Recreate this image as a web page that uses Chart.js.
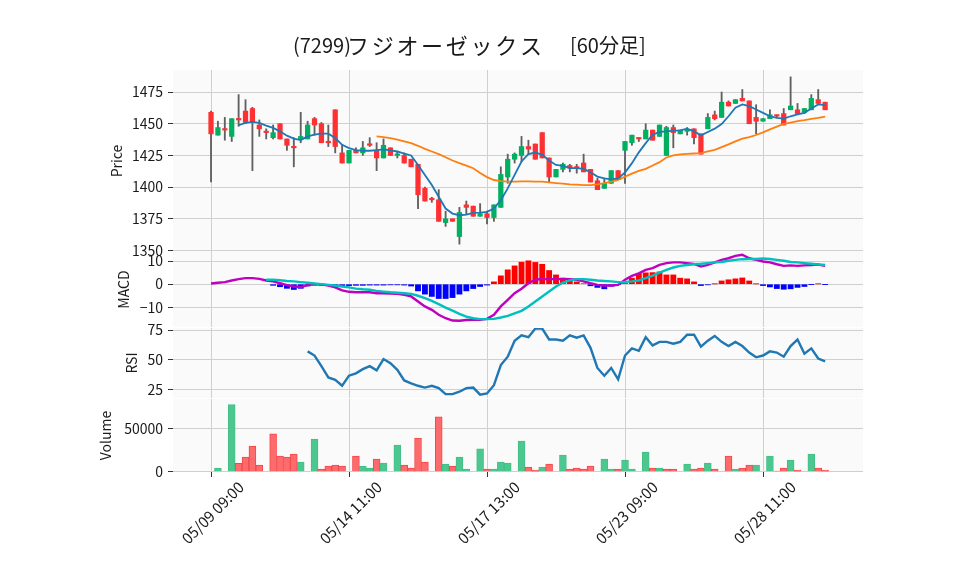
<!DOCTYPE html>
<html lang="ja">
<head>
<meta charset="utf-8">
<title>(7299)フジオーゼックス [60分足]</title>
<script src="https://cdn.jsdelivr.net/npm/chart.js@4.4.1/dist/chart.umd.min.js"></script>
<style>
  html, body { margin: 0; padding: 0; background: #ffffff; }
  #wrap { position: relative; width: 958px; height: 575px; overflow: hidden; }
  #wrap canvas { position: absolute; left: 0; top: 0; }
</style>
</head>
<body>
<div id="wrap">
  <canvas id="priceChart" width="958" height="575"></canvas>
  <canvas id="macdChart" width="958" height="575"></canvas>
  <canvas id="rsiChart" width="958" height="575"></canvas>
  <canvas id="volumeChart" width="958" height="575"></canvas>
</div>
<script>
// ---- Data ----
const days = ['05/09', '05/10', '05/13', '05/14', '05/15', '05/16', '05/17', '05/20',
              '05/21', '05/22', '05/23', '05/24', '05/27', '05/28', '05/29'];
const hours = ['09:00', '10:00', '11:00', '12:00', '13:00', '14:00'];
const labels = days.flatMap(d => hours.map(h => `${d} ${h}`));
const xTicks = [0, 20, 40, 60, 80];

const opens = [
  1459, 1441, 1446, 1440, 1454, 1460, 1462, 1449, 1444, 1439,
  1450, 1438, 1432, 1438, 1438, 1454, 1450, 1436, 1461, 1427,
  1419, 1429, 1427, 1434, 1429, 1423, 1431, 1425, 1425, 1422,
  1418, 1399, 1391, 1390, 1372, 1375, 1361, 1386, 1385, 1377,
  1379, 1376, 1384, 1408, 1422, 1425, 1432, 1434, 1443, 1423,
  1408, 1414, 1417, 1416, 1419, 1414, 1405, 1399, 1403, 1413,
  1429, 1435, 1439, 1438, 1445, 1440, 1425, 1447, 1442, 1444,
  1446, 1442, 1446, 1457, 1455, 1467, 1466, 1470, 1468, 1455,
  1452, 1454, 1457, 1458, 1461, 1461, 1459, 1461, 1469, 1467
];
const highs = [
  1460, 1452, 1455, 1454, 1473, 1469, 1463, 1453, 1446, 1449,
  1450, 1438, 1439, 1459, 1452, 1455, 1451, 1449, 1461, 1433,
  1429, 1431, 1436, 1439, 1435, 1438, 1431, 1428, 1427, 1422,
  1418, 1400, 1392, 1398, 1381, 1375, 1384, 1389, 1385, 1387,
  1381, 1386, 1416, 1426, 1427, 1440, 1437, 1434, 1443, 1423,
  1414, 1419, 1418, 1418, 1426, 1414, 1407, 1407, 1413, 1413,
  1436, 1441, 1439, 1450, 1445, 1449, 1448, 1449, 1445, 1447,
  1446, 1442, 1458, 1460, 1475, 1468, 1469, 1477, 1468, 1465,
  1454, 1461, 1457, 1462, 1487, 1466, 1462, 1473, 1477, 1467
];
const lows = [
  1404, 1441, 1437, 1436, 1448, 1450, 1413, 1440, 1438, 1438,
  1438, 1429, 1416, 1435, 1438, 1441, 1435, 1432, 1427, 1419,
  1419, 1427, 1425, 1432, 1413, 1423, 1425, 1423, 1419, 1416,
  1383, 1389, 1388, 1373, 1369, 1373, 1355, 1379, 1377, 1377,
  1371, 1373, 1384, 1403, 1419, 1420, 1426, 1422, 1423, 1404,
  1408, 1412, 1412, 1411, 1412, 1404, 1398, 1399, 1403, 1406,
  1403, 1433, 1436, 1438, 1437, 1440, 1425, 1431, 1442, 1441,
  1434, 1426, 1446, 1453, 1455, 1464, 1466, 1468, 1450, 1442,
  1452, 1454, 1455, 1449, 1461, 1458, 1458, 1461, 1466, 1461
];
const closes = [
  1442, 1447, 1445, 1454, 1453, 1451, 1451, 1446, 1443, 1443,
  1438, 1433, 1431, 1440, 1449, 1449, 1435, 1435, 1432, 1419,
  1429, 1427, 1431, 1433, 1423, 1433, 1425, 1426, 1419, 1416,
  1394, 1389, 1390, 1373, 1375, 1373, 1380, 1384, 1377, 1379,
  1376, 1386, 1410, 1422, 1426, 1432, 1430, 1422, 1423, 1408,
  1414, 1418, 1415, 1415, 1412, 1404, 1398, 1403, 1413, 1406,
  1436, 1441, 1438, 1445, 1437, 1449, 1447, 1443, 1445, 1445,
  1439, 1426, 1455, 1454, 1467, 1464, 1469, 1468, 1450, 1452,
  1454, 1457, 1456, 1449, 1464, 1458, 1462, 1470, 1466, 1461
];

// short (blue) and long (orange) moving averages
const maShort = [
  null, null, null, null, 1448.8, 1450.6, 1451.4, 1450.6, 1448.5, 1446.7,
  1444.0, 1440.6, 1438.2, 1437.1, 1440.0, 1441.4, 1442.2, 1442.2, 1438.7, 1433.4,
  1430.8, 1429.2, 1428.7, 1428.7, 1429.2, 1429.7, 1428.9, 1428.1, 1426.4, 1425.0,
  1417.5, 1409.6, 1401.6, 1392.4, 1383.1, 1379.1, 1377.8, 1378.3, 1379.7, 1379.9,
  1380.5, 1383.1, 1389.7, 1399.0, 1409.6, 1420.2, 1426.0, 1427.3, 1425.5, 1421.0,
  1417.5, 1416.7, 1414.9, 1414.9, 1414.4, 1411.7, 1408.3, 1406.9, 1406.1, 1406.9,
  1411.5, 1418.9, 1427.4, 1434.7, 1441.4, 1443.5, 1444.0, 1444.5, 1444.8, 1446.1,
  1444.0, 1440.8, 1443.5, 1446.1, 1449.8, 1455.9, 1462.6, 1465.2, 1463.9, 1461.2,
  1458.6, 1455.9, 1454.6, 1454.1, 1455.9, 1457.3, 1458.6, 1462.0, 1465.2, 1464.7
];
const maLong = [
  null, null, null, null, null, null, null, null, null, null,
  null, null, null, null, null, null, null, null, null, null,
  null, null, null, null, 1440.0, 1439.5, 1438.7, 1437.4, 1436.0, 1434.7,
  1432.6, 1430.2, 1428.1, 1426.0, 1423.6, 1421.0, 1418.9, 1417.0, 1414.9, 1411.2,
  1407.9, 1405.6, 1404.8, 1404.3, 1404.3, 1404.6, 1404.6, 1404.3, 1404.3, 1403.8,
  1403.2, 1402.7, 1402.2, 1401.9, 1401.6, 1401.6, 1402.2, 1403.2, 1404.3, 1405.6,
  1408.3, 1410.6, 1412.8, 1414.4, 1417.0, 1419.7, 1423.4, 1425.0, 1425.8, 1426.3,
  1426.5, 1426.8, 1428.1, 1429.4, 1431.6, 1433.7, 1436.1, 1438.2, 1439.5, 1441.1,
  1443.2, 1445.6, 1447.7, 1449.8, 1450.9, 1452.0, 1452.8, 1453.8, 1454.6, 1455.7
];

const macd = [
  0.3, 0.6, 0.9, 1.6, 2.2, 2.6, 2.6, 2.3, 1.6, 1.2,
  0.4, -0.4, -1.0, -1.2, -0.4, 0.0, -0.1, -0.6, -1.4, -2.7,
  -3.3, -3.5, -3.5, -3.5, -3.9, -3.9, -4.0, -4.2, -4.6, -5.3,
  -7.5, -9.6, -11.1, -13.2, -14.7, -15.7, -15.8, -15.5, -15.4, -15.4,
  -15.0, -13.2, -9.6, -6.8, -3.9, -2.0, 0.4, 1.9, 2.3, 2.2,
  2.2, 2.3, 2.2, 1.9, 1.2, 0.4, -0.3, -0.6, -0.6, -0.3,
  1.9, 3.6, 4.7, 6.2, 6.9, 8.3, 9.1, 9.4, 9.4, 9.1,
  8.8, 7.6, 8.3, 9.4, 10.5, 11.2, 12.2, 12.7, 11.2, 10.5,
  9.8, 9.4, 8.6, 7.9, 8.1, 7.9, 8.1, 8.3, 8.5, 7.9
];
const signal = [
  null, null, null, null, null, null, null, null, 1.9, 1.9,
  1.7, 1.4, 1.2, 0.9, 0.6, 0.3, 0.0, -0.3, -0.6, -1.0,
  -1.4, -1.9, -2.2, -2.4, -2.9, -3.2, -3.5, -3.7, -3.9, -4.2,
  -5.0, -6.0, -7.2, -8.6, -10.1, -11.4, -12.8, -14.0, -14.7, -15.1,
  -15.1, -15.0, -14.4, -13.7, -12.6, -11.5, -9.6, -7.5, -5.3, -3.2,
  -1.0, 0.7, 1.6, 2.2, 2.2, 1.9, 1.6, 1.4, 1.2, 0.9,
  1.0, 1.2, 1.6, 2.6, 3.7, 5.0, 6.2, 7.2, 7.9, 8.3,
  8.6, 8.8, 9.1, 9.4, 9.6, 10.1, 10.5, 10.8, 10.9, 10.9,
  11.1, 10.9, 10.5, 10.1, 9.6, 9.4, 9.1, 8.8, 8.5, 8.3
];
const histogram = [
  null, null, null, null, null, null, null, null, null, -0.5,
  -1.1, -1.8, -2.3, -1.8, -0.8, -0.4, -0.5, -0.4, -0.5, -0.6,
  -0.6, -0.5, -0.5, -0.4, -0.4, -0.4, -0.3, -0.3, -0.4, -0.8,
  -2.9, -4.3, -5.3, -6.2, -6.2, -5.8, -4.3, -2.9, -1.9, -1.0,
  -0.4, 1.0, 3.6, 6.2, 7.9, 9.5, 10.1, 9.4, 8.6, 5.9,
  4.0, 2.6, 1.9, 1.0, 0.2, -0.7, -1.4, -2.0, -0.9, -0.2,
  0.3, 2.6, 4.7, 4.9, 5.0, 5.3, 4.0, 4.0, 2.6, 2.3,
  1.0, -0.6, -0.3, 0.1, 1.4, 1.9, 2.3, 2.7, 1.4, 0.1,
  -0.6, -1.2, -1.9, -2.2, -2.0, -1.4, -1.0, -0.1, 0.1, -0.1
];

const rsi = [
  null, null, null, null, null, null, null, null, null, null,
  null, null, null, null, 57.0, 53.5, 44.5, 35.0, 33.0, 28.0,
  36.5, 38.5, 42.0, 44.5, 41.0, 50.5, 47.0, 41.5, 32.5, 30.0,
  28.0, 26.5, 28.0, 26.0, 21.0, 21.0, 23.0, 26.0, 26.5, 20.5,
  21.5, 28.5, 45.5, 52.5, 66.0, 70.5, 69.0, 76.2, 76.2, 67.0,
  67.0, 66.0, 70.5, 68.5, 70.5, 60.0, 43.0, 36.5, 43.0, 33.5,
  53.5, 59.5, 57.5, 69.0, 62.0, 65.0, 65.0, 63.5, 65.0, 71.0,
  71.0, 61.0, 66.0, 70.0, 65.0, 61.5, 65.0, 61.5, 56.0, 52.0,
  53.5, 57.0, 56.0, 52.5, 61.5, 67.0, 55.0, 59.5, 51.0, 48.5
];

const volume = [
  null, 4200, null, 77300, 9600, 16900, 29600, 7700, null, 43500,
  18100, 16900, 20400, 11200, null, 37700, 3100, 6500, 7700, 6500,
  null, 18100, 6500, 4200, 14600, 10000, null, 30800, 7700, 4200,
  38800, 11200, null, 63100, 8800, 6500, 16900, 3100, null, 26200,
  3100, 3100, 11200, 10000, null, 35400, 5400, 1900, 5400, 8800,
  null, 19200, 3100, 4200, 3100, 6500, null, 14600, 3100, 3100,
  13500, 3100, null, 22700, 4200, 4200, 3100, 3100, null, 8800,
  3100, 4200, 10000, 3100, null, 18100, 3100, 4200, 7700, 7700,
  null, 18100, 800, 4200, 13500, 1900, null, 20400, 4200, 1900
];
// 1 = up bar, 0 = down bar
const volumeUp = [
  null, 1, null, 1, 0, 0, 0, 0, null, 0,
  0, 0, 0, 1, null, 1, 0, 0, 0, 0,
  null, 0, 1, 1, 0, 1, null, 1, 0, 0,
  0, 0, null, 0, 1, 0, 1, 1, null, 1,
  0, 1, 1, 1, null, 1, 0, 0, 1, 0,
  null, 1, 0, 0, 0, 0, null, 1, 1, 0,
  1, 1, null, 1, 0, 1, 0, 0, null, 1,
  0, 0, 1, 0, null, 0, 1, 0, 0, 1,
  null, 1, 0, 0, 1, 0, null, 1, 0, 0
];

const priceTicks = [1350, 1375, 1400, 1425, 1450, 1475];
const macdTicks = [-10, 0, 10];
const rsiTicks = [25, 50, 75];
const volumeTicks = [0, 50000];

// ---- Look ----
const FONT = '"Noto Sans CJK JP", "Noto Sans", sans-serif';
const TEXT = '#1a1a1a';
const GRID = '#d0d0d0';
const TICK = '#333333';
const PANEL_BG = '#fafafa';
const UP = '#00b060';
const DOWN = '#fe3032';
const WICK = '#606060';

const PLOT_LEFT = 173;
const PLOT_RIGHT = 863;
const CANVAS_H = 575;
const X_MIN = -5.51;
const X_MAX = 94.49;

Chart.defaults.font.family = FONT;
Chart.defaults.color = TEXT;

const points = arr => arr.map((v, i) => ({ x: i, y: v })).filter(p => p.y !== null);

// light grey plot background, like the matplotlib axes face colour
const panelBackground = {
  id: 'panelBackground',
  beforeDraw(chart) {
    const { ctx, chartArea: { left, top, width, height } } = chart;
    ctx.save();
    ctx.fillStyle = PANEL_BG;
    ctx.fillRect(left, top, width, height);
    ctx.restore();
  }
};

// figure title, katakana are set wider in the reference font
const figureTitle = {
  id: 'figureTitle',
  afterDraw(chart) {
    const { ctx } = chart;
    ctx.save();
    ctx.fillStyle = TEXT;
    ctx.textAlign = 'left';
    ctx.textBaseline = 'alphabetic';
    ctx.font = `20px ${FONT}`;
    ctx.fillText('(7299)', 293, 53);
    ctx.font = `22px ${FONT}`;
    const kana = 'フジオーゼックス';
    for (let k = 0; k < kana.length; k++) {
      ctx.fillText(kana[k], 347 + k * 24.7, 54);
    }
    ctx.font = `20px ${FONT}`;
    ctx.fillText('[60分足]', 570, 53);
    ctx.restore();
  }
};

function xAxis(showLabels) {
  return {
    type: 'linear',
    min: X_MIN,
    max: X_MAX,
    offset: false,
    afterBuildTicks: s => { s.ticks = xTicks.map(v => ({ value: v })); },
    afterFit: s => { s.height = showLabels ? 100 : 0; },
    border: { display: false },
    grid: { offset: false, color: GRID, lineWidth: 1, drawTicks: showLabels, tickColor: TICK, tickLength: 5 },
    ticks: {
      display: showLabels,
      autoSkip: false,
      minRotation: 45,
      maxRotation: 45,
      labelOffset: 30,
      padding: 1,
      color: TEXT,
      font: { family: FONT, size: 15 },
      callback: v => labels[v]
    }
  };
}

function yAxis(title, ticks, min, max, width) {
  return {
    type: 'linear',
    position: 'left',
    min: min,
    max: max,
    afterBuildTicks: s => { s.ticks = ticks.map(v => ({ value: v })); },
    afterFit: s => { s.width = width; },
    border: { display: false },
    grid: { color: GRID, lineWidth: 1, tickColor: TICK, tickLength: 5 },
    ticks: {
      color: TEXT,
      padding: 5,
      font: { family: FONT, size: 14 },
      callback: v => (v < 0 ? '\u2212' + Math.abs(v) : String(v))
    },
    title: { display: true, text: title, color: TEXT, padding: 0, font: { family: FONT, size: 14 } }
  };
}

function makePanel(canvasId, cfg) {
  const ctx = document.getElementById(canvasId).getContext('2d');
  return new Chart(ctx, {
    type: 'bar',
    data: { datasets: cfg.datasets },
    plugins: [panelBackground].concat(cfg.plugins || []),
    options: {
      responsive: false,
      animation: false,
      events: [],
      layout: {
        padding: {
          left: PLOT_LEFT - cfg.axisWidth,
          right: 958 - PLOT_RIGHT,
          top: cfg.top,
          bottom: cfg.showLabels ? CANVAS_H - cfg.bottom - 100 : CANVAS_H - cfg.bottom
        }
      },
      plugins: { legend: { display: false }, tooltip: { enabled: false } },
      scales: {
        x: xAxis(cfg.showLabels),
        y: yAxis(cfg.title, cfg.ticks, cfg.min, cfg.max, cfg.axisWidth)
      }
    }
  });
}

// ---- Price panel: candles + moving averages ----
const idx = closes.map((_, i) => i);
makePanel('priceChart', {
  title: 'Price', ticks: priceTicks, min: 1348.8, max: 1492.4,
  top: 70, bottom: 252, axisWidth: 65, showLabels: false,
  plugins: [figureTitle],
  datasets: [
    {
      label: 'wick',
      data: idx.map(i => ({ x: i, y: [lows[i], highs[i]] })),
      backgroundColor: WICK,
      barThickness: 1.2,
      grouped: false,
      order: 3
    },
    {
      label: 'body',
      data: idx.map(i => ({ x: i, y: [opens[i], closes[i]] })),
      backgroundColor: idx.map(i => (closes[i] >= opens[i] ? UP : DOWN)),
      barThickness: 4.6,
      minBarLength: 1.5,
      grouped: false,
      order: 2
    },
    {
      type: 'line', label: 'MA short', data: points(maShort),
      borderColor: '#1f77b4', borderWidth: 1.8, pointRadius: 0, order: 1
    },
    {
      type: 'line', label: 'MA long', data: points(maLong),
      borderColor: '#ff7f0e', borderWidth: 1.8, pointRadius: 0, order: 1
    }
  ]
});

// ---- MACD panel ----
makePanel('macdChart', {
  title: 'MACD', ticks: macdTicks, min: -18.5, max: 13.9,
  top: 252, bottom: 327, axisWidth: 58, showLabels: false,
  datasets: [
    {
      label: 'hist',
      data: points(histogram),
      backgroundColor: points(histogram).map(p => (p.y >= 0 ? '#ff0000' : '#0000ff')),
      barThickness: 5.2,
      grouped: false,
      order: 3
    },
    {
      type: 'line', label: 'MACD', data: points(macd),
      borderColor: '#bf00bf', borderWidth: 2.4, pointRadius: 0, order: 2
    },
    {
      type: 'line', label: 'Signal', data: points(signal),
      borderColor: '#00bfbf', borderWidth: 2.4, pointRadius: 0, order: 1
    }
  ]
});

// ---- RSI panel ----
makePanel('rsiChart', {
  title: 'RSI', ticks: rsiTicks, min: 17.7, max: 76.7,
  top: 328, bottom: 398, axisWidth: 50, showLabels: false,
  datasets: [
    {
      type: 'line', label: 'RSI', data: points(rsi),
      borderColor: '#1f77b4', borderWidth: 2.4, pointRadius: 0
    }
  ]
});

// ---- Volume panel ----
const volPoints = points(volume);
makePanel('volumeChart', {
  title: 'Volume', ticks: volumeTicks, min: -350, max: 83750,
  top: 399, bottom: 472, axisWidth: 76, showLabels: true,
  datasets: [
    {
      label: 'Volume',
      data: volPoints,
      backgroundColor: volPoints.map(p => (volumeUp[p.x] ? '#4dc790' : '#fd6b6c')),
      borderColor: volPoints.map(p => (volumeUp[p.x] ? '#42bf86' : '#f5474a')),
      borderWidth: 1,
      barThickness: 6.9,
      grouped: false
    }
  ]
});
</script>
</body>
</html>
